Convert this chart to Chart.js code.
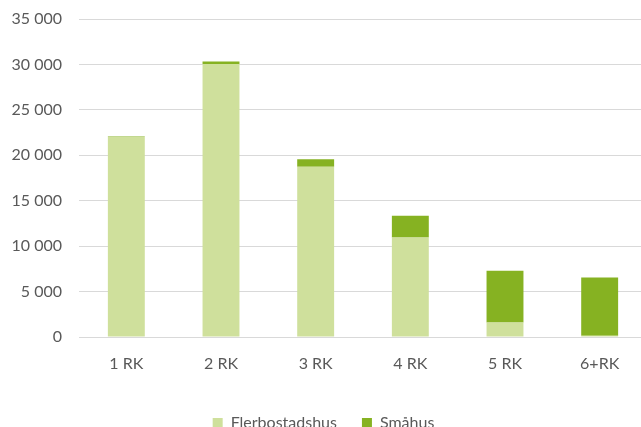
<!DOCTYPE html>
<html>
<head>
<meta charset="utf-8">
<script src="https://cdn.jsdelivr.net/npm/chart.js@4.4.0/dist/chart.umd.min.js"></script>
<style>
    html, body { margin: 0; padding: 0; background: #ffffff; overflow: hidden; }
    #wrap { width: 647px; height: 441px; }
</style>
</head>
<body>
<div id="wrap"><canvas id="chart"></canvas></div>
<script>
// Chart data
const categories = ['1 RK', '2 RK', '3 RK', '4 RK', '5 RK', '6+RK'];
const flerbostadshus = [22000, 30050, 18750, 10950, 1600, 150];
const smahus = [80, 280, 800, 2400, 5700, 6400];
const seriesNames = ['Flerbostadshus', 'Småhus'];
const seriesColors = ['#cfe09c', '#86b222'];

// Format ticks like "35 000"
function formatNumber(value) {
    return String(value).replace(/\B(?=(\d{3})+(?!\d))/g, ' ');
}

Chart.defaults.font.family = 'Lato, sans-serif';
Chart.defaults.font.size = 16;
Chart.defaults.color = '#595959';

const ctx = document.getElementById('chart').getContext('2d');
new Chart(ctx, {
    type: 'bar',
    data: {
        labels: categories,
        datasets: [
            {
                label: seriesNames[0],
                data: flerbostadshus,
                backgroundColor: seriesColors[0],
                categoryPercentage: 1,
                barPercentage: 0.39
            },
            {
                label: seriesNames[1],
                data: smahus,
                backgroundColor: seriesColors[1],
                categoryPercentage: 1,
                barPercentage: 0.39
            }
        ]
    },
    options: {
        responsive: true,
        maintainAspectRatio: false,
        animation: false,
        layout: {
            padding: { top: 19, left: 0, right: 0, bottom: 0 }
        },
        plugins: {
            legend: {
                position: 'bottom',
                labels: {
                    boxWidth: 10,
                    boxHeight: 10,
                    padding: 25
                }
            },
            tooltip: { enabled: false }
        },
        scales: {
            x: {
                stacked: true,
                grid: { display: false, drawTicks: false },
                border: { display: true, color: '#d9d9d9', width: 1 },
                ticks: { padding: 17 },
                afterFit: function(scale) {
                    scale.height = 53;
                }
            },
            y: {
                stacked: true,
                min: 0,
                max: 35000,
                grid: { color: '#d9d9d9', lineWidth: 1, drawTicks: false },
                border: { display: false },
                ticks: {
                    stepSize: 5000,
                    padding: 17,
                    callback: function(value) {
                        return formatNumber(value);
                    }
                },
                afterFit: function(scale) {
                    scale.width = 79;
                    scale.paddingTop = 0;
                    scale.paddingBottom = 0;
                }
            }
        }
    }
});
</script>
</body>
</html>
